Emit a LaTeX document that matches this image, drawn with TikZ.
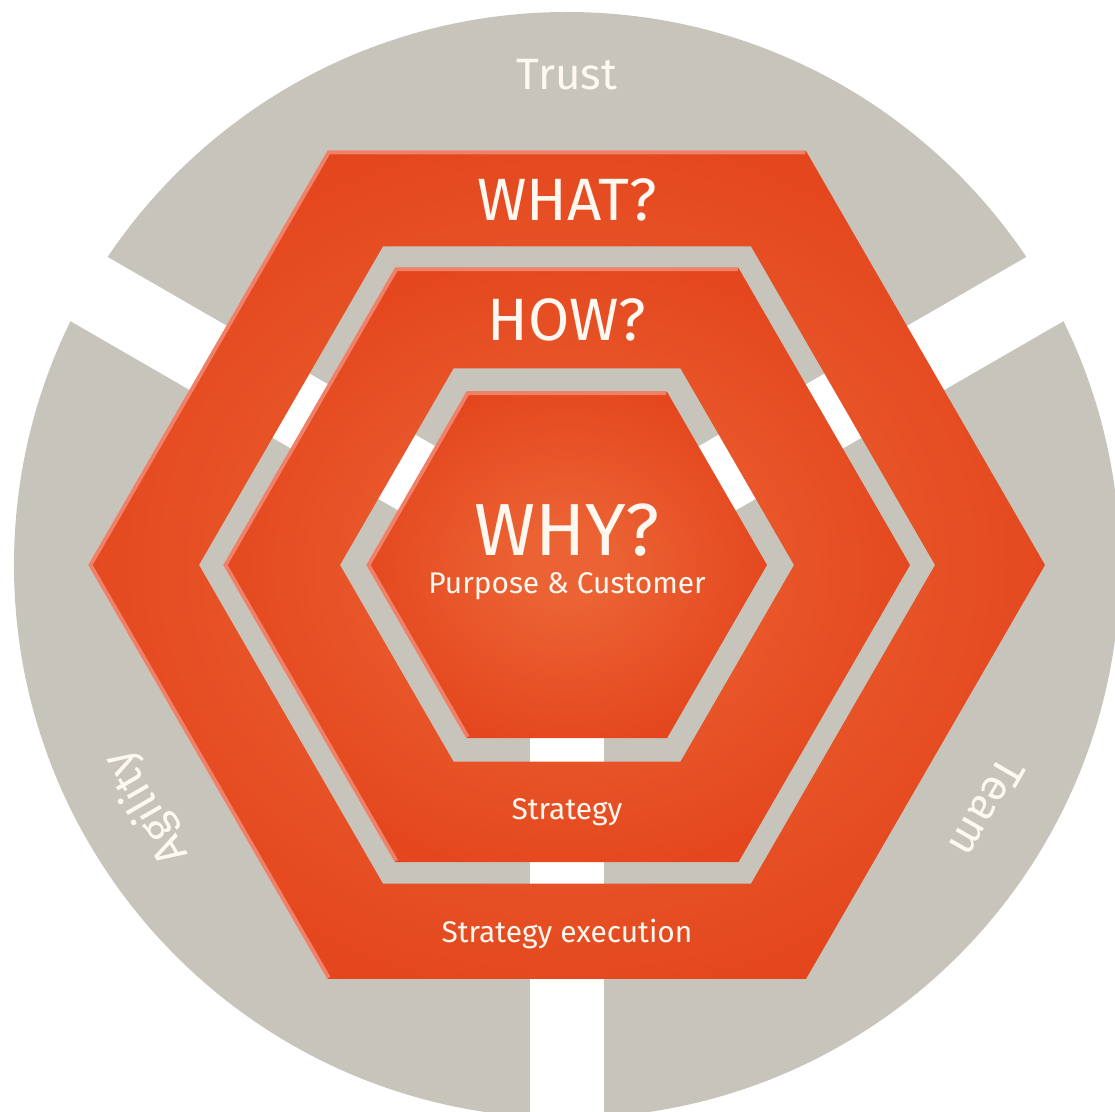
\documentclass[tikz,border=0pt]{standalone}
\usepackage{xcolor}
\usepackage{fontspec}
\setmainfont{Fira Sans}
\usepackage{tikz}

\definecolor{ringgrey}{HTML}{C7C5BB}
\definecolor{hexdark}{HTML}{E13913}
\definecolor{hexlight}{HTML}{EB6334}
\definecolor{hexedge}{HTML}{F08068}
\definecolor{labelwhite}{HTML}{FFF8F0}
\pgfdeclareradialshading{hexglow}{\pgfpoint{0bp}{0bp}}{color(0bp)=(hexlight); color(5bp)=(hexlight); color(37bp)=(hexdark); color(50bp)=(hexdark)}

\newcommand{\hexoutline}[1]{(0:#1) -- (60:#1) -- (120:#1) -- (180:#1) -- (240:#1) -- (300:#1) -- cycle}
\newcommand{\hexbevel}[1]{(60:#1) -- (120:#1) -- (180:#1) -- (240:#1)}

\begin{document}
\begin{tikzpicture}[x=0.01cm, y=0.01cm,
  hexfill/.style={shading=hexglow, even odd rule},
  edgeline/.style={draw=hexedge, line width=1.1pt, line join=miter},
  title/.style={text=labelwhite, anchor=base, font=\fontsize{17}{20}\selectfont},
  bigtitle/.style={text=labelwhite, anchor=base, font=\fontsize{21}{25}\selectfont},
  caption/.style={text=labelwhite, anchor=base, font=\fontsize{8.5}{10}\selectfont},
  rim/.style={text=labelwhite, font=\fontsize{12.5}{15}\selectfont}]

 \useasboundingbox (-567, -547) rectangle (548, 565);
 \clip (-567, -547) rectangle (548, 565);

 % grey disc, cut by three white spokes
 \fill [ringgrey] (0, 0) circle (553);
 \foreach \a in {30, 150, 270}
  \draw [white, line width=0.74cm] (0, 0) -- (\a:620);

 % WHAT, HOW and WHY
 \shade [hexfill] \hexoutline{478} \hexoutline{368};
 \draw [edgeline] \hexbevel{476.5};
 \shade [hexfill] \hexoutline{343} \hexoutline{227};
 \draw [edgeline] \hexbevel{341.5};
 \shade [hexfill] \hexoutline{200};
 \draw [edgeline] \hexbevel{198.5};

 \node [title] (what) at (0, 344) {WHAT?};
 \node [title] (how) at (0, 224) {HOW?};
 \node [bigtitle] (why) at (0, 10) {WHY?};
 \node [caption] (purpose) at (0, -28) {Purpose \& Customer};
 \node [caption] (strategy) at (0, -254) {Strategy};
 \node [caption] (execution) at (0, -377) {Strategy execution};

 % words on the grey rim
 \node [rim, anchor=base] (trust) at (0, 475) {Trust};
 \node [rim, rotate=120] (agility) at (210:485) {Agility};
 \node [rim, rotate=-120] (team) at (-30:485) {Team};
\end{tikzpicture}
\end{document}
